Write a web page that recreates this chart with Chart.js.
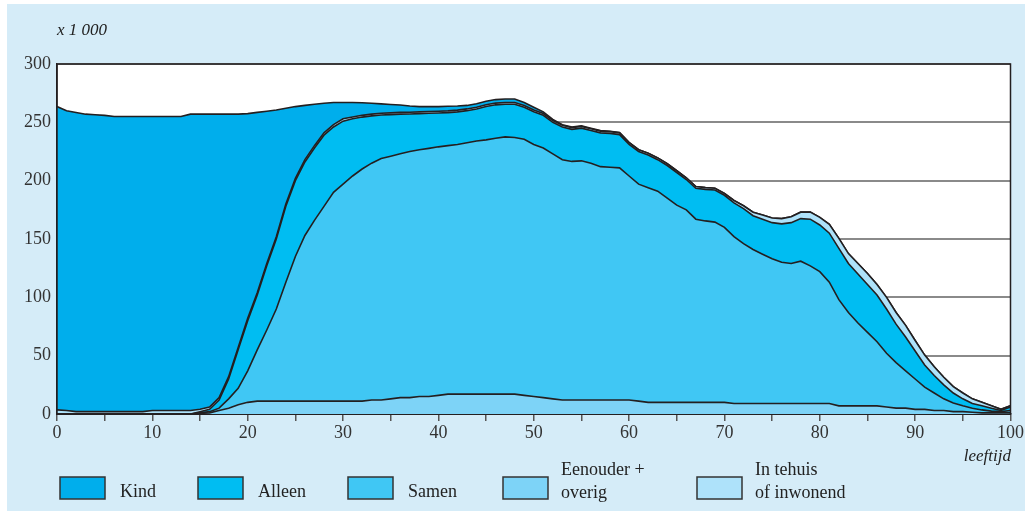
<!DOCTYPE html>
<html>
<head>
<meta charset="utf-8">
<script src="https://cdn.jsdelivr.net/npm/chart.js@4.4.1/dist/chart.umd.min.js"></script>
<style>
    html, body { margin: 0; padding: 0; background: #fff; }
    canvas { display: block; }
</style>
</head>
<body>
<canvas id="chart" width="1025" height="511"></canvas>
<script>
// leeftijd 0 t/m 100, waarden x 1 000
const ages = Array.from({length: 101}, (_, i) => i);

const eenouder = [
    0, 0, 0, 0, 0, 0, 0, 0, 0, 0, 0, 0, 0, 0, 0, 0.5, 1, 3, 5, 8,
    10, 11, 11, 11, 11, 11, 11, 11, 11, 11, 11, 11, 11, 12, 12, 13, 14, 14, 15, 15,
    16, 17, 17, 17, 17, 17, 17, 17, 17, 16, 15, 14, 13, 12, 12, 12, 12, 12, 12, 12,
    12, 11, 10, 10, 10, 10, 10, 10, 10, 10, 10, 9, 9, 9, 9, 9, 9, 9, 9, 9,
    9, 9, 7, 7, 7, 7, 7, 6, 5, 5, 4, 4, 3, 3, 2, 2, 1.5, 1, 1, 1,
    1
];
const samen = [
    0, 0, 0, 0, 0, 0, 0, 0, 0, 0, 0, 0, 0, 0, 0, 0.5, 1, 2, 8, 14,
    27, 44, 61, 79, 102, 124, 142, 155, 167, 179, 186, 193, 199, 203, 207, 208, 209, 211, 211.5, 212.7,
    213, 213, 214, 215.5, 217, 218, 219.3, 220.5, 220, 219.5, 216, 214, 210, 206, 204.5, 205, 203, 200, 199.5, 199,
    192, 186, 184, 181, 175, 169, 165, 157, 155.5, 154.5, 150, 143, 137, 132, 128, 124, 121, 120, 122, 118,
    113, 104, 91, 80, 71, 63, 55, 46, 39, 32, 26, 19, 15, 10, 7.5, 5, 3.5, 2.5, 1.5, 1,
    2
];
const alleen = [
    0, 0, 0, 0, 0, 0, 0, 0, 0, 0, 0, 0, 0, 0, 0, 1, 2, 7, 17, 33,
    43, 47, 55, 60, 65, 65, 63, 62, 61, 56, 54, 49, 44.5, 40.5, 37.3, 35.6, 34, 32.2, 31, 30.1,
    29, 28.3, 28, 27.5, 27.5, 28.5, 28.7, 28, 28.5, 27.5, 28, 28, 27, 28, 27.5, 28, 28, 29, 29, 28.5,
    27, 28, 28, 27, 28, 28, 26, 26.5, 27, 27.5, 27.5, 29, 30, 29, 30, 31, 33, 35, 36.5, 40,
    40, 42, 44, 42, 42, 41, 40, 38, 33, 29, 24, 19, 15, 12, 8.5, 6, 4, 3.5, 2.5, 1,
    3
];
const tehuis = [
    3.5, 3, 2, 2, 2, 2, 2, 2, 2, 2, 3, 3, 3, 3, 3, 2, 2, 2, 2, 2,
    2, 2, 2, 2, 2, 2, 2, 2, 2, 2, 2, 1.5, 1.5, 1.5, 1.5, 1.5, 1.5, 1.5, 1.5, 1.5,
    1.5, 1.5, 1.5, 1.5, 1.5, 1.5, 1.5, 1.5, 1.5, 1.5, 1.5, 1.5, 1.5, 1.5, 1.5, 1.5, 1.5, 1.5, 1.5, 1.5,
    1.5, 1.5, 1.5, 1.5, 1.5, 1.5, 1.5, 1.5, 1.5, 1.5, 1.5, 2, 2.5, 3, 3.5, 4, 4.5, 5, 5.5, 6,
    6.5, 7.5, 8.5, 8.5, 9, 9.5, 9, 10, 10, 10, 9, 8.5, 7.5, 6.5, 5.5, 5, 4, 3, 2, 1,
    1
];
const kind = [
    260, 257, 256.5, 255, 254.5, 254, 253, 253, 253, 253, 252, 252, 252, 252, 254, 253, 251, 243, 225, 200,
    175.5, 154.5, 130.5, 108.5, 82, 61.5, 46.5, 35.5, 25.3, 19, 14, 12.5, 10.8, 9.3, 8, 7.2, 6.3, 5.3, 4.5, 4.2,
    4, 4, 3.5, 3, 3, 3, 3, 3, 3, 2.5, 2.5, 1.5, 1, 0.5, 0.5, 0.5, 0.5, 0.5, 0.3, 0.3,
    0.3, 0, 0, 0, 0, 0, 0, 0, 0, 0, 0, 0, 0, 0, 0, 0, 0, 0, 0, 0,
    0, 0, 0, 0, 0, 0, 0, 0, 0, 0, 0, 0, 0, 0, 0, 0, 0, 0, 0, 0,
    0
];

const yTicks = [0, 50, 100, 150, 200, 250, 300];

const serif = '"Liberation Serif", "DejaVu Serif", serif';
const lineColor = '#231f20';

// volgorde van onder naar boven
const series = [
    {label: 'Eenouder + overig', legend: ['Eenouder +', 'overig'], data: eenouder, color: '#7dd3f7'},
    {label: 'Samen', legend: ['Samen'], data: samen, color: '#40c7f4'},
    {label: 'Alleen', legend: ['Alleen'], data: alleen, color: '#00bdf2'},
    {label: 'In tehuis of inwonend', legend: ['In tehuis', 'of inwonend'], data: tehuis, color: '#aee2fa'},
    {label: 'Kind', legend: ['Kind'], data: kind, color: '#00aeec'}
];

const backgroundPlugin = {
    id: 'background',
    beforeDraw: chart => {
        const {ctx, chartArea: a} = chart;
        ctx.save();
        ctx.fillStyle = '#ffffff';
        ctx.fillRect(0, 0, chart.width, chart.height);
        ctx.fillStyle = '#d5ecf8';
        ctx.fillRect(7, 4, chart.width - 7, chart.height - 4);
        ctx.fillStyle = '#ffffff';
        ctx.fillRect(a.left, a.top, a.right - a.left, a.bottom - a.top);
        ctx.restore();
    },
    afterDatasetsDraw: chart => {
        const {ctx, chartArea: a} = chart;
        ctx.save();
        ctx.strokeStyle = lineColor;
        ctx.lineWidth = 1.5;
        ctx.beginPath();
        ctx.moveTo(a.left, a.bottom);
        ctx.lineTo(a.left, a.top);
        ctx.lineTo(a.right, a.top);
        ctx.lineTo(a.right, a.bottom);
        ctx.stroke();
        ctx.restore();
    }
};

const legendPlugin = {
    id: 'boxLegend',
    afterDraw: chart => {
        const {ctx} = chart;
        // Kind, Alleen, Samen, Eenouder, In tehuis
        const order = [4, 2, 1, 0, 3];
        const boxX = [60, 198, 348, 503, 697];
        ctx.save();
        ctx.font = '18px ' + serif;
        ctx.textBaseline = 'middle';
        ctx.textAlign = 'left';
        order.forEach((idx, i) => {
            const s = series[idx];
            const x = boxX[i];
            ctx.fillStyle = s.color;
            ctx.fillRect(x, 477, 45, 22);
            ctx.strokeStyle = '#333';
            ctx.lineWidth = 1.5;
            ctx.strokeRect(x, 477, 45, 22);
            ctx.fillStyle = '#222';
            if (s.legend.length === 1) {
                ctx.fillText(s.legend[0], x + 60, 492);
            } else {
                ctx.fillText(s.legend[0], x + 58, 470);
                ctx.fillText(s.legend[1], x + 58, 493);
            }
        });
        ctx.font = 'italic 17px ' + serif;
        ctx.fillText('x 1 000', 57, 31);
        ctx.textAlign = 'right';
        ctx.fillText('leeftijd', 1011, 457);
        ctx.restore();
    }
};

new Chart(document.getElementById('chart'), {
    type: 'line',
    data: {
        labels: ages,
        datasets: series.map((s, i) => ({
            label: s.label,
            data: s.data.map((v, j) => ({x: ages[j], y: v})),
            backgroundColor: s.color,
            borderColor: lineColor,
            borderWidth: 1.6,
            pointRadius: 0,
            tension: 0,
            fill: i === 0 ? 'origin' : '-1'
        }))
    },
    options: {
        responsive: false,
        animation: false,
        layout: {
            autoPadding: false,
            padding: {top: 64, right: 13, left: 0, bottom: 0}
        },
        scales: {
            x: {
                type: 'linear',
                min: 0,
                max: 100,
                afterFit: scale => { scale.height = 97; },
                ticks: {
                    stepSize: 5,
                    autoSkip: false,
                    maxRotation: 0,
                    padding: 1,
                    color: '#333',
                    font: {family: serif, size: 18},
                    callback: value => value % 10 === 0 ? value : ''
                },
                grid: {
                    drawOnChartArea: false,
                    drawTicks: true,
                    tickLength: 7,
                    color: '#555',
                    lineWidth: 1.5
                },
                border: {color: lineColor, width: 2}
            },
            y: {
                stacked: true,
                min: 0,
                max: 300,
                afterFit: scale => { scale.width = 57; },
                afterBuildTicks: scale => { scale.ticks = yTicks.map(v => ({value: v})); },
                ticks: {
                    padding: 6,
                    color: '#333',
                    font: {family: serif, size: 18}
                },
                grid: {
                    drawTicks: false,
                    color: '#8a8a8a',
                    lineWidth: 2
                },
                border: {color: lineColor, width: 1.5}
            }
        },
        plugins: {
            legend: {display: false},
            tooltip: {enabled: false},
            filler: {propagate: false}
        }
    },
    plugins: [backgroundPlugin, legendPlugin]
});
</script>
</body>
</html>
